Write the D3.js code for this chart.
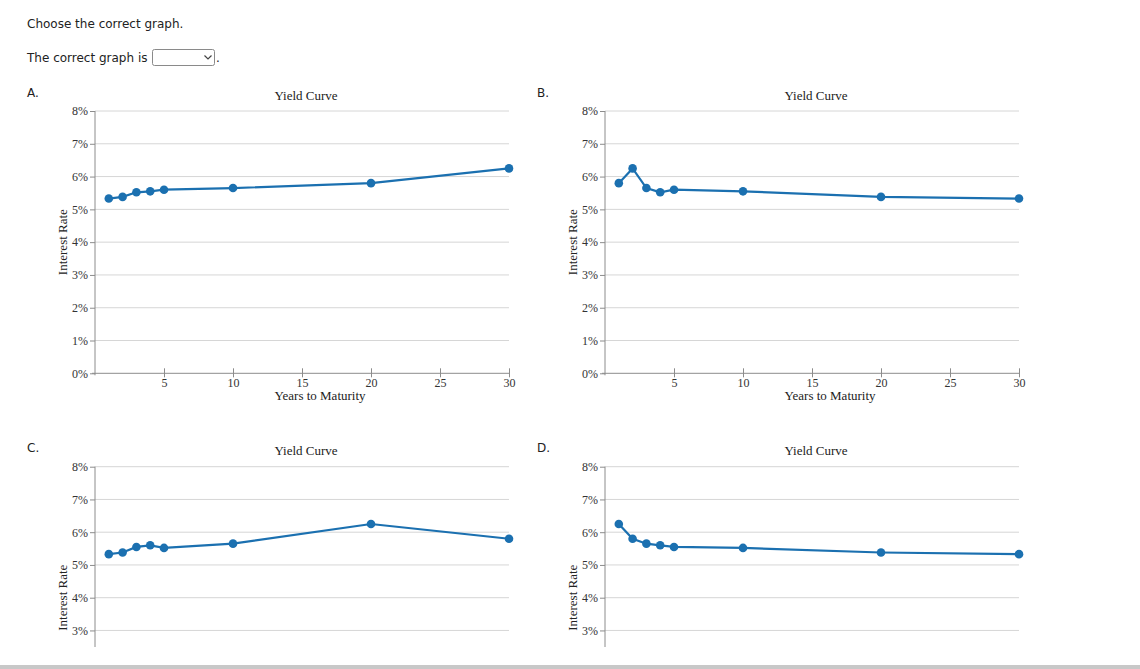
<!DOCTYPE html>
<html><head><meta charset="utf-8">
<script src="https://cdn.jsdelivr.net/npm/d3@7"></script>
<style>
html,body{margin:0;padding:0;background:#fff;}
svg{display:block;}
</style></head>
<body>
<svg id="c" width="1140" height="669"></svg>
<script>
// ---- data ----
const years = [1, 2, 3, 4, 5, 10, 20, 30];
const ratesA = [5.33, 5.38, 5.52, 5.55, 5.60, 5.65, 5.80, 6.25];
const ratesB = [5.80, 6.25, 5.65, 5.52, 5.60, 5.55, 5.38, 5.33];
const ratesC = [5.33, 5.38, 5.55, 5.60, 5.52, 5.65, 6.25, 5.80];
const ratesD = [6.25, 5.80, 5.65, 5.60, 5.55, 5.52, 5.38, 5.33];
const yTicks = [0, 1, 2, 3, 4, 5, 6, 7, 8];
const xTicks = [5, 10, 15, 20, 25, 30];
const panelLetters = ["A.", "B.", "C.", "D."];
const chartTitle = "Yield Curve";
const xLabel = "Years to Maturity";
const yLabel = "Interest Rate";

const svg = d3.select("#c");
const sans = "'DejaVu Sans', Verdana, sans-serif";
const serif = "'Liberation Serif', 'Times New Roman', serif";
const blue = "#1b70b0";
const CUT = 647; // bottom panels are cut off in the page view here

// header
svg.append("text").attr("x", 27).attr("y", 28).attr("font-family", sans).attr("font-size", 12)
  .attr("fill", "#222").text("Choose the correct graph.");
svg.append("text").attr("x", 27).attr("y", 62).attr("font-family", sans).attr("font-size", 12)
  .attr("fill", "#222").text("The correct graph is");
svg.append("rect").attr("x", 152.5).attr("y", 49.5).attr("width", 62).attr("height", 16)
  .attr("rx", 2).attr("fill", "#fff").attr("stroke", "#8a8a8a");
svg.append("path").attr("d", "M204.5,55.5 L208,59 L211.5,55.5").attr("fill", "none")
  .attr("stroke", "#444").attr("stroke-width", 1.2);
svg.append("text").attr("x", 216).attr("y", 62).attr("font-family", sans).attr("font-size", 12)
  .attr("fill", "#222").text(".");

svg.append("defs").append("clipPath").attr("id", "cut")
  .append("rect").attr("x", 0).attr("y", 0).attr("width", 1140).attr("height", CUT);

const panels = [
  {rates: ratesA, lx: 27, ly: 97, x0: 95, x1: 509, top: 111, zero: 373.3, ttl: 100},
  {rates: ratesB, lx: 537, ly: 97, x0: 605, x1: 1019, top: 111, zero: 373.3, ttl: 100},
  {rates: ratesC, lx: 27, ly: 452, x0: 95, x1: 509, top: 466.7, zero: 728.7, ttl: 455},
  {rates: ratesD, lx: 537, ly: 452, x0: 605, x1: 1019, top: 466.7, zero: 728.7, ttl: 455}
];

panels.forEach((p, i) => {
  const cutOff = i >= 2;
  svg.append("text").attr("x", p.lx).attr("y", p.ly).attr("font-family", sans).attr("font-size", 12)
    .attr("fill", "#222").text(panelLetters[i]);

  const g = svg.append("g");
  if (cutOff) g.attr("clip-path", "url(#cut)");

  const x = d3.scaleLinear().domain([0, 30]).range([p.x0, p.x1]);
  const y = d3.scaleLinear().domain([0, 8]).range([p.zero, p.top]);
  const visY = yTicks.filter(d => y(d) < CUT || !cutOff);

  // gridlines
  g.append("g").selectAll("line").data(visY.filter(d => d > 0)).join("line")
    .attr("x1", p.x0).attr("x2", p.x1).attr("y1", d => y(d)).attr("y2", d => y(d))
    .attr("stroke", "#d6d6d6").attr("stroke-width", 1);

  // y axis
  const ya = g.append("g").attr("transform", `translate(${p.x0},0)`)
    .call(d3.axisLeft(y).tickValues(visY).tickFormat(d => d + "%").tickSize(5).tickPadding(2));
  ya.select(".domain").attr("stroke", "#8c8c8c").attr("d", `M0,${p.top}V${p.zero + 2}`);
  ya.selectAll(".tick line").attr("stroke", "#8c8c8c");
  ya.selectAll(".tick text").attr("font-family", serif).attr("font-size", 12).attr("fill", "#333");

  if (!cutOff) {
    // x axis
    const xa = g.append("g").attr("transform", `translate(0,${p.zero})`)
      .call(d3.axisBottom(x).tickValues(xTicks).tickSize(4).tickPadding(1));
    xa.select(".domain").attr("stroke", "#8c8c8c").attr("d", `M${p.x0 - 3},0H${p.x1}`);
    xa.selectAll(".tick line").attr("stroke", "#8c8c8c").attr("y1", -5).attr("y2", 4);
    xa.selectAll(".tick text").attr("font-family", serif).attr("font-size", 12).attr("fill", "#333");
    g.append("text").attr("x", (p.x0 + p.x1) / 2 + 18).attr("y", p.zero + 27).attr("text-anchor", "middle")
      .attr("font-family", serif).attr("font-size", 13).attr("fill", "#222").text(xLabel);
  }

  // titles
  g.append("text").attr("x", (p.x0 + p.x1) / 2 + 4).attr("y", p.ttl).attr("text-anchor", "middle")
    .attr("font-family", serif).attr("font-size", 13).attr("fill", "#222").text(chartTitle);
  g.append("text").attr("transform", `translate(${p.x0 - 28},${(p.top + p.zero) / 2}) rotate(-90)`)
    .attr("text-anchor", "middle").attr("font-family", serif).attr("font-size", 13).attr("fill", "#222")
    .text(yLabel);

  // line + points
  const pts = years.map((yr, k) => [yr, p.rates[k]]);
  g.append("path").datum(pts)
    .attr("d", d3.line().x(d => x(d[0])).y(d => y(d[1])))
    .attr("fill", "none").attr("stroke", blue).attr("stroke-width", 2.2);
  g.append("g").selectAll("circle").data(pts).join("circle")
    .attr("cx", d => x(d[0])).attr("cy", d => y(d[1])).attr("r", 4.3).attr("fill", blue);
});

// bottom bar
svg.append("rect").attr("x", 0).attr("y", 665).attr("width", 1140).attr("height", 4).attr("fill", "#c8c8c8");
</script>
</body></html>
